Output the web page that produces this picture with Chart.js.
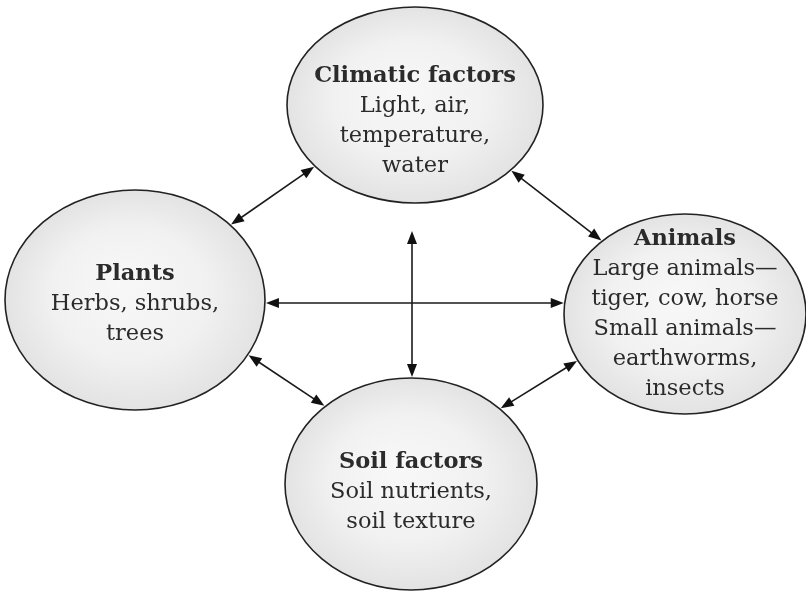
<!DOCTYPE html>
<html>
<head>
<meta charset="utf-8">
<script src="https://cdn.jsdelivr.net/npm/chart.js@4.4.1/dist/chart.umd.min.js"></script>
<style>
    html, body { margin: 0; padding: 0; background: #fff; }
    #wrap { width: 806px; height: 593px; }
</style>
</head>
<body>
<div id="wrap"><canvas id="diagram"></canvas></div>
<script>
// Diagram content
const nodeTitles = ['Climatic factors', 'Plants', 'Animals', 'Soil factors'];
const nodeLines = [
    ['Light, air,', 'temperature,', 'water'],
    ['Herbs, shrubs,', 'trees'],
    ['Large animals\u2014', 'tiger, cow, horse', 'Small animals\u2014', 'earthworms,', 'insects'],
    ['Soil nutrients,', 'soil texture']
];
const nodeX = [415, 135, 685, 411];
const nodeY = [105, 300, 314, 484];
// every link is a two-way arrow between two nodes
const links = [[0, 1], [0, 2], [1, 2], [0, 3], [1, 3], [2, 3]];

// Look of the bubbles, arrows and labels
const shape = {
    rx: [128, 130, 121, 126],
    ry: [98, 110, 100, 106],
    labelDy: [16, 4, 0, 8],
    lineHeight: 30,
    fontSize: 22.5,
    // sideways shift of each arrow and extra gap at its start
    linkShift: [7, -7, -4, 1, -17, 17],
    linkGap: [0, 0, 0, 27, 0, 0],
    stroke: '#222',
    text: '#2b2b2b',
    font: '"DejaVu Serif", "Liberation Serif", serif'
};

function drawHead(ctx, tx, ty, ux, uy) {
    const len = 13, half = 5;
    ctx.beginPath();
    ctx.moveTo(tx, ty);
    ctx.lineTo(tx - ux * len - uy * half, ty - uy * len + ux * half);
    ctx.lineTo(tx - ux * len + uy * half, ty - uy * len - ux * half);
    ctx.closePath();
    ctx.fill();
}

// where the line m + s*u crosses the ellipse (c, rx, ry); both roots
function hitEllipse(mx, my, ux, uy, cx, cy, rx, ry) {
    const px = mx - cx, py = my - cy;
    const A = (ux / rx) ** 2 + (uy / ry) ** 2;
    const B = 2 * (px * ux / (rx * rx) + py * uy / (ry * ry));
    const C = (px / rx) ** 2 + (py / ry) ** 2 - 1;
    const disc = Math.max(0, B * B - 4 * A * C);
    return [(-B - Math.sqrt(disc)) / (2 * A), (-B + Math.sqrt(disc)) / (2 * A)];
}

const diagramPlugin = {
    id: 'diagram',
    afterDatasetsDraw(chart) {
        const { ctx, scales: { x, y } } = chart;
        const cx = nodeX.map(v => x.getPixelForValue(v));
        const cy = nodeY.map(v => y.getPixelForValue(v));
        const rx = shape.rx.map((r, i) => Math.abs(x.getPixelForValue(nodeX[i] + r) - cx[i]));
        const ry = shape.ry.map((r, i) => Math.abs(y.getPixelForValue(nodeY[i] + r) - cy[i]));

        ctx.save();
        // Bubbles
        nodeTitles.forEach((t, i) => {
            ctx.save();
            ctx.translate(cx[i], cy[i]);
            ctx.scale(1, ry[i] / rx[i]);
            const g = ctx.createRadialGradient(-rx[i] * 0.1, -rx[i] * 0.15, 0, 0, 0, rx[i]);
            g.addColorStop(0, '#f8f8f8');
            g.addColorStop(0.6, '#f1f1f1');
            g.addColorStop(1, '#e3e3e3');
            ctx.beginPath();
            ctx.arc(0, 0, rx[i], 0, Math.PI * 2);
            ctx.fillStyle = g;
            ctx.fill();
            ctx.restore();
            ctx.beginPath();
            ctx.ellipse(cx[i], cy[i], rx[i], ry[i], 0, 0, Math.PI * 2);
            ctx.lineWidth = 1.6;
            ctx.strokeStyle = shape.stroke;
            ctx.stroke();
        });

        // Arrows
        ctx.strokeStyle = '#1a1a1a';
        ctx.fillStyle = '#111';
        ctx.lineWidth = 1.6;
        links.forEach(([a, b], k) => {
            let dx = cx[b] - cx[a], dy = cy[b] - cy[a];
            // nearly level or upright links are drawn straight
            if (Math.abs(dy) < Math.abs(dx) * 0.07) dy = 0;
            if (Math.abs(dx) < Math.abs(dy) * 0.07) dx = 0;
            const d = Math.hypot(dx, dy), ux = dx / d, uy = dy / d;
            const nx = -uy, ny = ux;
            const mx = (cx[a] + cx[b]) / 2 + nx * shape.linkShift[k];
            const my = (cy[a] + cy[b]) / 2 + ny * shape.linkShift[k];
            const sa = hitEllipse(mx, my, ux, uy, cx[a], cy[a], rx[a], ry[a])[1] + 1 + shape.linkGap[k];
            const sb = hitEllipse(mx, my, ux, uy, cx[b], cy[b], rx[b], ry[b])[0] - 1;
            const sx = mx + ux * sa, sy = my + uy * sa;
            const ex = mx + ux * sb, ey = my + uy * sb;
            ctx.beginPath();
            ctx.moveTo(sx + ux * 8, sy + uy * 8);
            ctx.lineTo(ex - ux * 8, ey - uy * 8);
            ctx.stroke();
            drawHead(ctx, ex, ey, ux, uy);
            drawHead(ctx, sx, sy, -ux, -uy);
        });

        // Labels
        ctx.fillStyle = shape.text;
        ctx.textAlign = 'center';
        ctx.textBaseline = 'middle';
        nodeTitles.forEach((t, i) => {
            const rows = [t].concat(nodeLines[i]);
            const top = cy[i] + shape.labelDy[i] - (rows.length - 1) * shape.lineHeight / 2;
            rows.forEach((r, k) => {
                ctx.font = (k === 0 ? 'bold ' : '') + shape.fontSize + 'px ' + shape.font;
                ctx.fillText(r, cx[i], top + k * shape.lineHeight);
            });
        });
        ctx.restore();
    }
};

const chart = new Chart(document.getElementById('diagram'), {
    type: 'scatter',
    data: {
        datasets: [{
            data: nodeX.map((v, i) => ({ x: v, y: nodeY[i] })),
            pointRadius: 0
        }]
    },
    options: {
        responsive: true,
        maintainAspectRatio: false,
        animation: false,
        layout: { padding: 0 },
        plugins: {
            legend: { display: false },
            tooltip: { enabled: false }
        },
        scales: {
            x: { type: 'linear', min: 0, max: 806, display: false },
            y: { type: 'linear', min: 0, max: 593, reverse: true, display: false }
        }
    },
    plugins: [diagramPlugin]
});
</script>
</body>
</html>
